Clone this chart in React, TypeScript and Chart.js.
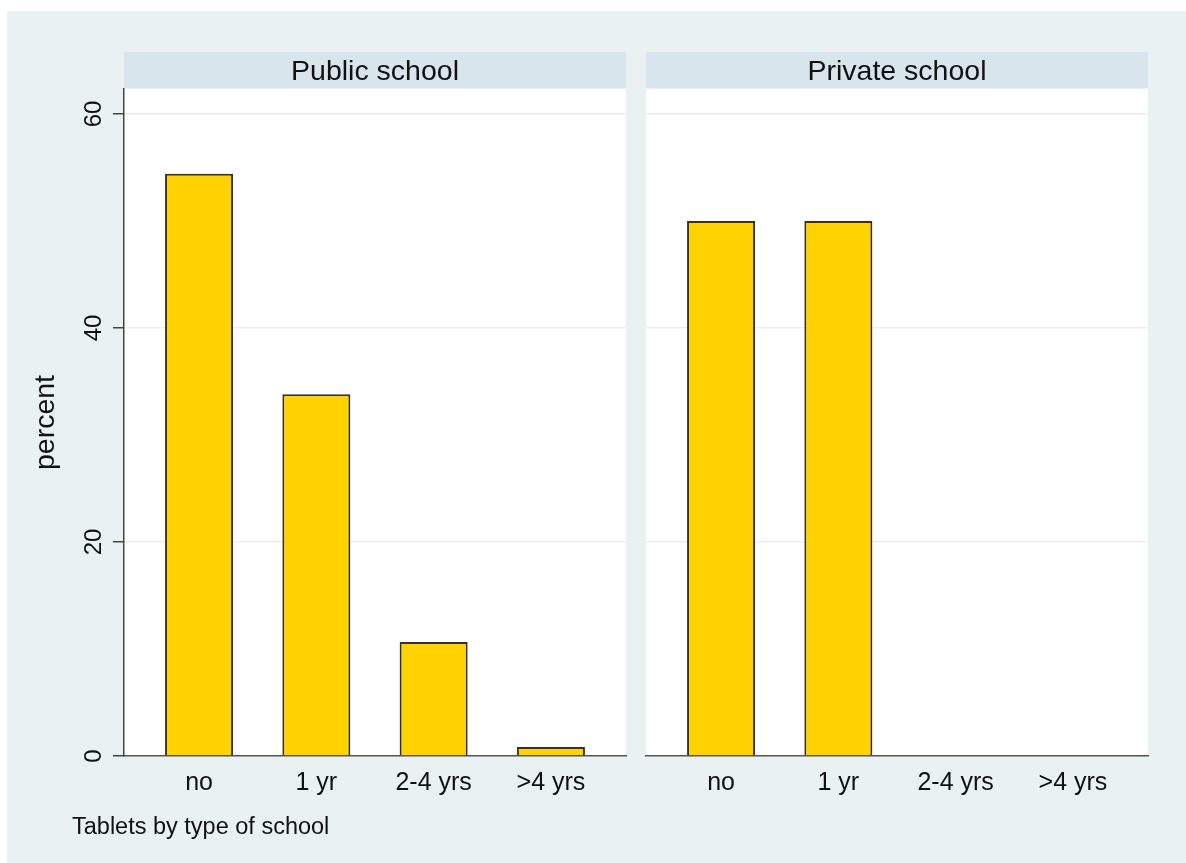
import React, { useEffect, useRef } from "react";
import { Chart, registerables } from "chart.js";

Chart.register(...registerables);

const categories = ["no", "1 yr", "2-4 yrs", ">4 yrs"];
const publicValues = [54.4, 33.8, 10.65, 0.84];
const privateValues = [50, 50, 0, 0];
const yTickValues = [0, 20, 40, 60];
const panelTitles = ["Public school", "Private school"];
const yAxisTitle = "percent";
const noteText = "Tablets by type of school";

const FONT = '"Liberation Sans", Arial, Helvetica, sans-serif';
const BG = "#E9F1F3";
const STRIP = "#D8E5EC";
const BAR_FILL = "#FFD200";
const BAR_BORDER = "#3a3020";
const TEXT = "#111111";

function makeConfig(values: number[], title: string, isLeft: boolean): any {
  const stripPlugin = {
    id: "strip",
    beforeDraw(chart: any) {
      const { ctx, chartArea } = chart;
      ctx.save();
      ctx.fillStyle = "#ffffff";
      ctx.fillRect(chartArea.left, chartArea.top, chartArea.right - chartArea.left, chartArea.bottom - chartArea.top);
      ctx.restore();
    },
    afterDraw(chart: any) {
      const { ctx, chartArea } = chart;
      ctx.save();
      ctx.fillStyle = STRIP;
      ctx.fillRect(chartArea.left, chartArea.top - 37, chartArea.right - chartArea.left, 36);
      ctx.fillStyle = TEXT;
      ctx.font = `28.5px ${FONT}`;
      ctx.textAlign = "center";
      ctx.textBaseline = "middle";
      ctx.fillText(title, (chartArea.left + chartArea.right) / 2, chartArea.top - 17);
      if (isLeft) {
        const ys = chart.scales.y;
        ctx.font = `24px ${FONT}`;
        for (const v of yTickValues) {
          const py = ys.getPixelForValue(v);
          ctx.save();
          ctx.translate(chartArea.left - 29.5, py);
          ctx.rotate(-Math.PI / 2);
          ctx.fillText(String(v), 0, 0);
          ctx.restore();
        }
      }
      ctx.restore();
    },
  };

  return {
    type: "bar",
    data: {
      datasets: [
        {
          data: values.map((v, i) => ({ x: i, y: v })),
          backgroundColor: BAR_FILL,
          borderColor: BAR_BORDER,
          borderWidth: 2,
          barPercentage: 0.58,
          categoryPercentage: 1,
        },
      ],
    },
    options: {
      responsive: false,
      animation: false,
      devicePixelRatio: 1,
      layout: {
        padding: isLeft
          ? { left: 0, right: 10, top: 49, bottom: 0 }
          : { left: 10, right: 38, top: 49, bottom: 0 },
      },
      plugins: {
        legend: { display: false },
        tooltip: { enabled: false },
        title: { display: false },
      },
      scales: {
        x: {
          type: "linear",
          min: -0.64,
          max: 3.64,
          offset: false,
          afterBuildTicks: (scale: any) => {
            scale.ticks = categories.map((_, i) => ({ value: i }));
          },
          afterFit: (scale: any) => {
            scale.height = 74;
          },
          grid: { display: false, offset: false, drawTicks: false },
          border: { display: true, color: "#555555", width: 1.5 },
          ticks: {
            autoSkip: false,
            maxRotation: 0,
            minRotation: 0,
            padding: 12,
            color: TEXT,
            font: { family: FONT, size: 25 },
            callback: (v: any) => categories[v] ?? "",
          },
        },
        y: {
          type: "linear",
          min: 0,
          max: 62.33,
          afterBuildTicks: (scale: any) => {
            scale.ticks = yTickValues.map((v) => ({ value: v }));
          },
          afterFit: (scale: any) => {
            scale.width = isLeft ? 104 : 0;
          },
          grid: {
            display: true,
            color: "#EDEDED",
            lineWidth: 1.5,
            drawTicks: isLeft,
            tickLength: 11,
            tickColor: "#444444",
            tickWidth: 1.5,
          },
          border: { display: isLeft, color: "#444444", width: 1.5 },
          ticks: { display: false },
          title: {
            display: isLeft,
            text: yAxisTitle,
            color: TEXT,
            font: { family: FONT, size: 28.5 },
            padding: { top: 9, bottom: 0 },
          },
        },
      },
    },
    plugins: [stripPlugin],
  };
}

function Panel({ values, title, isLeft, left, width }: any) {
  const ref = useRef<HTMLCanvasElement | null>(null);
  useEffect(() => {
    if (!ref.current) return;
    const chart = new Chart(ref.current, makeConfig(values, title, isLeft));
    return () => chart.destroy();
  }, []);
  return (
    <canvas
      ref={ref}
      width={width}
      height={790}
      style={{ position: "absolute", left, top: 40, width, height: 790 }}
    />
  );
}

export default function App() {
  return (
    <div
      style={{
        position: "fixed",
        left: 0,
        top: 0,
        width: 1186,
        height: 863,
        background: "#ffffff",
        overflow: "hidden",
      }}
    >
      <div
        style={{
          position: "absolute",
          left: 7,
          top: 11,
          right: 0,
          bottom: 0,
          background: BG,
        }}
      />
      <Panel values={publicValues} title={panelTitles[0]} isLeft={true} left={20} width={616} />
      <Panel values={privateValues} title={panelTitles[1]} isLeft={false} left={636} width={550} />
      <div
        style={{
          position: "absolute",
          left: 72,
          top: 812,
          fontFamily: FONT,
          fontSize: 23.5,
          lineHeight: "28px",
          color: TEXT,
          whiteSpace: "nowrap",
        }}
      >
        {noteText}
      </div>
    </div>
  );
}
